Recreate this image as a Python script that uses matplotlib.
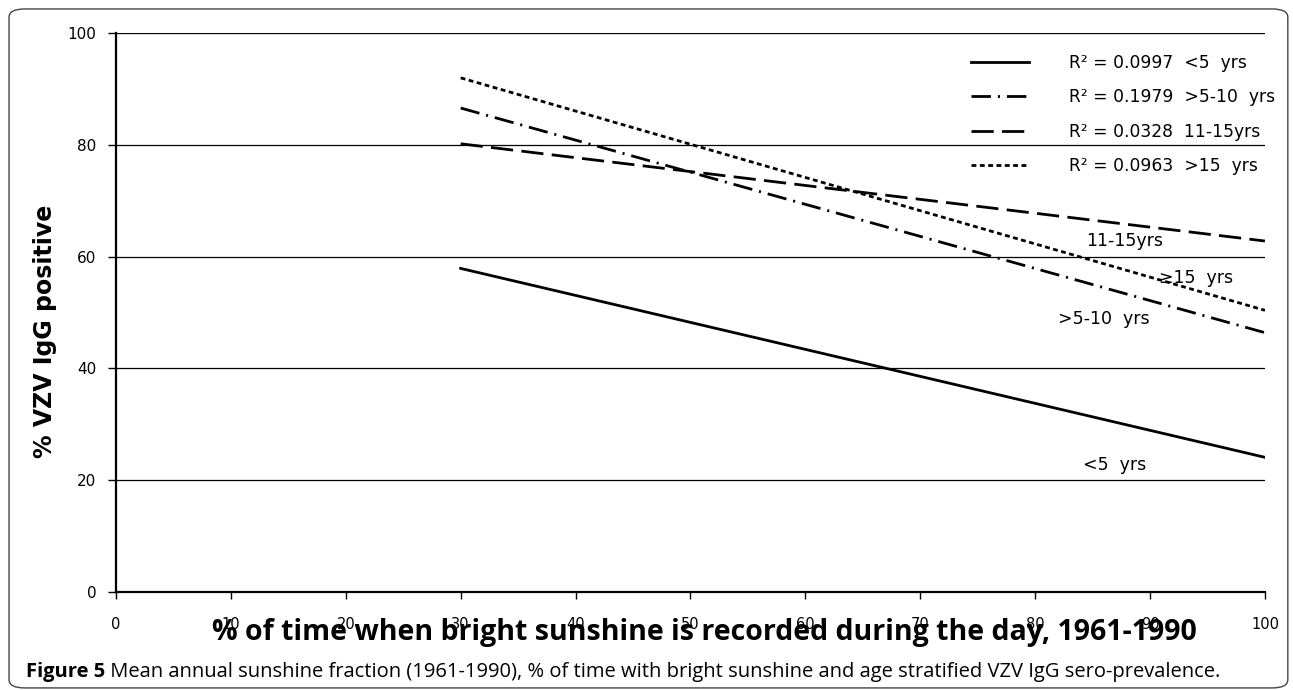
import matplotlib
matplotlib.use("Agg")
import matplotlib.pyplot as plt
from matplotlib.patches import FancyBboxPatch

# Data (fitted trend lines, x from 30 to 100)
x_range = [30, 100]
lt5 = [57.9, 24.1]
gt5_10 = [86.6, 46.4]
y11_15 = [80.2, 62.8]
gt15 = [92.0, 50.4]

legend_labels = ["R\u00b2 = 0.0997  <5  yrs",
                 "R\u00b2 = 0.1979  >5-10  yrs",
                 "R\u00b2 = 0.0328  11-15yrs",
                 "R\u00b2 = 0.0963  >15  yrs"]
x_ticks = list(range(0, 101, 10))
y_ticks = list(range(0, 101, 20))

plt.rcParams['lines.scale_dashes'] = False
plt.rcParams['font.family'] = 'DejaVu Sans'

fig = plt.figure(figsize=(12.93, 6.90), dpi=100)
ax = fig.add_axes([0.0897, 0.142, 0.8886, 0.810])

# outer rounded frame
frame = FancyBboxPatch((0.007, 0.003), 0.989, 0.984, transform=fig.transFigure,
                       boxstyle="round,pad=0,rounding_size=0.012",
                       fill=False, edgecolor="#444444", lw=1.0, clip_on=False)
fig.patches.append(frame)

# trend lines
lw = 2.0
h1, = ax.plot(x_range, lt5, color="black", lw=lw, linestyle="-")
h2, = ax.plot(x_range, gt5_10, color="black", lw=lw, dashes=(14, 5, 1.5, 5))
h3, = ax.plot(x_range, y11_15, color="black", lw=lw, dashes=(16, 6))
h4, = ax.plot(x_range, gt15, color="black", lw=lw, dashes=(3.5, 2.5))

ax.set_xlim(0, 100)
ax.set_ylim(0, 100)
ax.set_xticks(x_ticks)
ax.set_yticks(y_ticks)
ax.grid(axis="y", color="black", lw=0.9)
ax.set_axisbelow(True)
for s in ["top", "right"]:
    ax.spines[s].set_visible(False)
ax.spines["left"].set_linewidth(1.6)
ax.spines["bottom"].set_linewidth(1.6)
ax.tick_params(axis="y", direction="out", length=6, width=1, pad=8, labelsize=11)
ax.tick_params(axis="x", direction="out", length=5, width=1, pad=13, labelsize=10.5)

ax.set_ylabel("% VZV IgG positive", fontsize=17, fontweight="bold")
ax.yaxis.set_label_coords(-0.051, 0.467)

# x-axis label, overlapping the tick labels as in the source
fig.text(0.545, 0.084, "% of time when bright sunshine is recorded during the day, 1961-1990",
         ha="center", va="center", fontsize=20.5, fontweight="bold", family="Open Sans")

# in-plot labels
ax.text(87.8, 62.8, "11-15yrs", fontsize=12.5, ha="center", va="center")
ax.text(94.0, 56.2, "\u226515  yrs", fontsize=12.5, ha="center", va="center")
ax.text(86.0, 48.9, ">5-10  yrs", fontsize=12.5, ha="center", va="center")
ax.text(86.9, 22.7, "<5  yrs", fontsize=12.5, ha="center", va="center")

leg = ax.legend([h1, h2, h3, h4], legend_labels, loc="upper right",
                bbox_to_anchor=(1.022, 0.99), frameon=False, fontsize=12.3,
                handlelength=3.4, handletextpad=2.3, labelspacing=0.95)

# caption
cap1 = fig.text(0.020, 0.019, "Figure 5", fontsize=14.5, fontweight="bold",
                family="Open Sans", va="baseline")
fig.canvas.draw()
bb = cap1.get_window_extent()
x_next = bb.x1 / fig.bbox.width
fig.text(x_next, 0.019, " Mean annual sunshine fraction (1961-1990), % of time with bright sunshine and age stratified VZV IgG sero-prevalence.",
         fontsize=14.5, family="Open Sans", va="baseline")

fig.savefig("out.png", dpi=100)
